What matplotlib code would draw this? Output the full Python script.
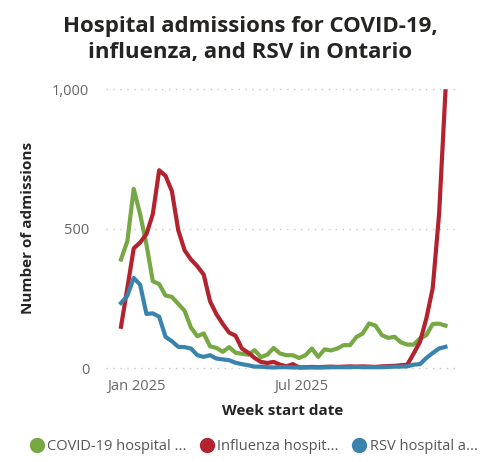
import numpy as np
import pandas as pd
import matplotlib
matplotlib.use("Agg")
from matplotlib import pyplot as plt
from matplotlib.lines import Line2D
import matplotlib.dates as mdates

plt.rcParams['font.family'] = ['Open Sans', 'DejaVu Sans']

# weekly data, week start dates
weeks = pd.date_range('2024-12-15', periods=52, freq='7D')

covid = [389, 455, 642, 552, 443, 311, 301, 260, 255, 230, 205, 145, 114, 124,
         78, 72, 58, 75, 55, 51, 48, 64, 39, 48, 72, 52, 46, 46, 36, 46,
         70, 40, 67, 63, 70, 82, 82, 111, 124, 160, 152, 118, 108, 112, 92,
         84, 84, 106, 118, 158, 159, 152]
flu = [148, 287, 429, 450, 480, 552, 709, 689, 634, 494, 422, 389, 365, 335,
       239, 193, 158, 127, 116, 70, 55, 36, 22, 18, 22, 12, 6, 14, 2, 3,
       4, 3, 4, 5, 4, 5, 6, 5, 6, 5, 4, 6, 7, 8, 10, 12, 52, 94, 178, 287,
       552, 992]
rsv = [233, 259, 323, 299, 194, 196, 184, 112, 96, 76, 75, 70, 46, 40, 46,
       34, 31, 28, 19, 14, 10, 5, 5, 3, 2, 3, 3, 2, 2, 2, 2, 2, 2, 3, 3, 3,
       3, 4, 3, 3, 3, 3, 4, 5, 5, 6, 12, 14, 36, 54, 70, 76]

series_names = ['COVID-19 hospital ...', 'Influenza hospit...', 'RSV hospital a...']
colors = ['#76A843', '#B3232F', '#3A83AC']

fig = plt.figure(figsize=(5, 4.62), dpi=100)
ax = fig.add_axes([0.212, 0.1883, 0.708, 0.637])

for vals, c in zip([covid, flu, rsv], colors):
    ax.plot(weeks, vals, color=c, lw=3.0, solid_joinstyle='round')

ax.set_ylim(-25, 1030)
ax.set_xlim(weeks[0] - pd.Timedelta(days=16.5), weeks[-1] + pd.Timedelta(days=16))
ax.set_yticks([0, 500, 1000])
ax.set_yticklabels(['0', '500', '1,000'])
ax.set_xticks([pd.Timestamp('2025-01-01'), pd.Timestamp('2025-07-01')])
ax.xaxis.set_major_formatter(mdates.DateFormatter('%b %Y'))
ax.tick_params(axis='both', length=0, labelsize=10.5, labelcolor='#666666')
ax.tick_params(axis='y', pad=12)
ax.tick_params(axis='x', pad=3)
ax.grid(axis='y', color='#C8C8C8', linestyle=(0, (1, 4)), lw=1)
ax.set_axisbelow(True)
for s in ax.spines.values():
    s.set_visible(False)

ax.set_xlabel('Week start date', fontsize=11, fontweight='bold', color='#252423', labelpad=7)
ax.set_ylabel('Number of admissions', fontsize=11, fontweight='bold', color='#252423', labelpad=12)

fig.suptitle('Hospital admissions for COVID-19,\ninfluenza, and RSV in Ontario',
             fontsize=16, fontweight='bold', color='#252423', y=0.965, linespacing=1.3)

handles = [Line2D([], [], marker='o', ls='none', color=c, markersize=10) for c in colors]
fig.legend(handles, series_names, loc='center', bbox_to_anchor=(0.5, 0.033), ncol=3,
           frameon=False, fontsize=10.5, labelcolor='#555555', handletextpad=-0.3,
           columnspacing=0.4, borderaxespad=0)

fig.savefig('out.png', dpi=100)
